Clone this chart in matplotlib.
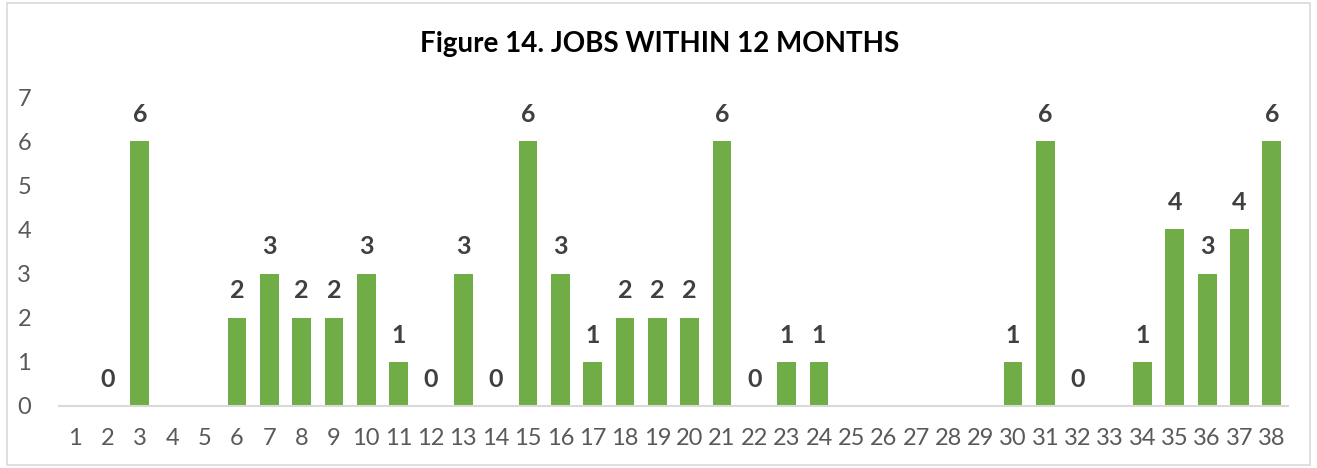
import numpy as np
import matplotlib.pyplot as plt
from matplotlib.patches import Rectangle

# categories 1..38, blank where no value shown
categories = [str(i) for i in range(1, 39)]
values = [np.nan, 0, 6, np.nan, np.nan, 2, 3, 2, 2, 3,
          1, 0, 3, 0, 6, 3, 1, 2, 2, 2,
          6, 0, 1, 1, np.nan, np.nan, np.nan, np.nan, np.nan, 1,
          6, 0, np.nan, 1, 4, 3, 4, 6]
title = 'Figure 14. JOBS WITHIN 12 MONTHS'

plt.rcParams['font.family'] = ['Lato', 'DejaVu Sans']

fig = plt.figure(figsize=(13.17, 4.68), dpi=100)
ax = fig.add_axes([0.0448, 0.1325, 0.9332, 0.6602])

x = np.arange(len(categories))
vals = np.array(values, dtype=float)
ax.bar(x, np.nan_to_num(vals), width=0.58, color='#70ad47', edgecolor='none')

for xi, v in zip(x, vals):
    if np.isnan(v):
        continue
    ax.annotate(f'{int(v)}', (xi, v), xytext=(0, 11), textcoords='offset points',
                ha='center', va='bottom', fontsize=18, fontweight='bold', color='#404040')

ax.set_xlim(-0.5, len(categories) - 0.5)
ax.set_ylim(0, 7)
ax.set_xticks(x)
ax.set_xticklabels(categories)
ax.set_yticks(range(0, 8))
ax.tick_params(axis='both', length=0, labelsize=17, labelcolor='#595959')
ax.tick_params(axis='x', pad=16)
ax.tick_params(axis='y', pad=20)
for s in ['top', 'right', 'left']:
    ax.spines[s].set_visible(False)
ax.spines['bottom'].set_color('#d9d9d9')
ax.spines['bottom'].set_linewidth(1.5)

fig.text(0.501, 0.905, title, ha='center', va='center', fontsize=20,
         fontweight='bold', color='black')

fig.patches.append(Rectangle((0.005, 0.006), 0.99, 0.988, transform=fig.transFigure,
                             fill=False, edgecolor='#d9d9d9', linewidth=1.2))

fig.savefig('out.png', dpi=100)
